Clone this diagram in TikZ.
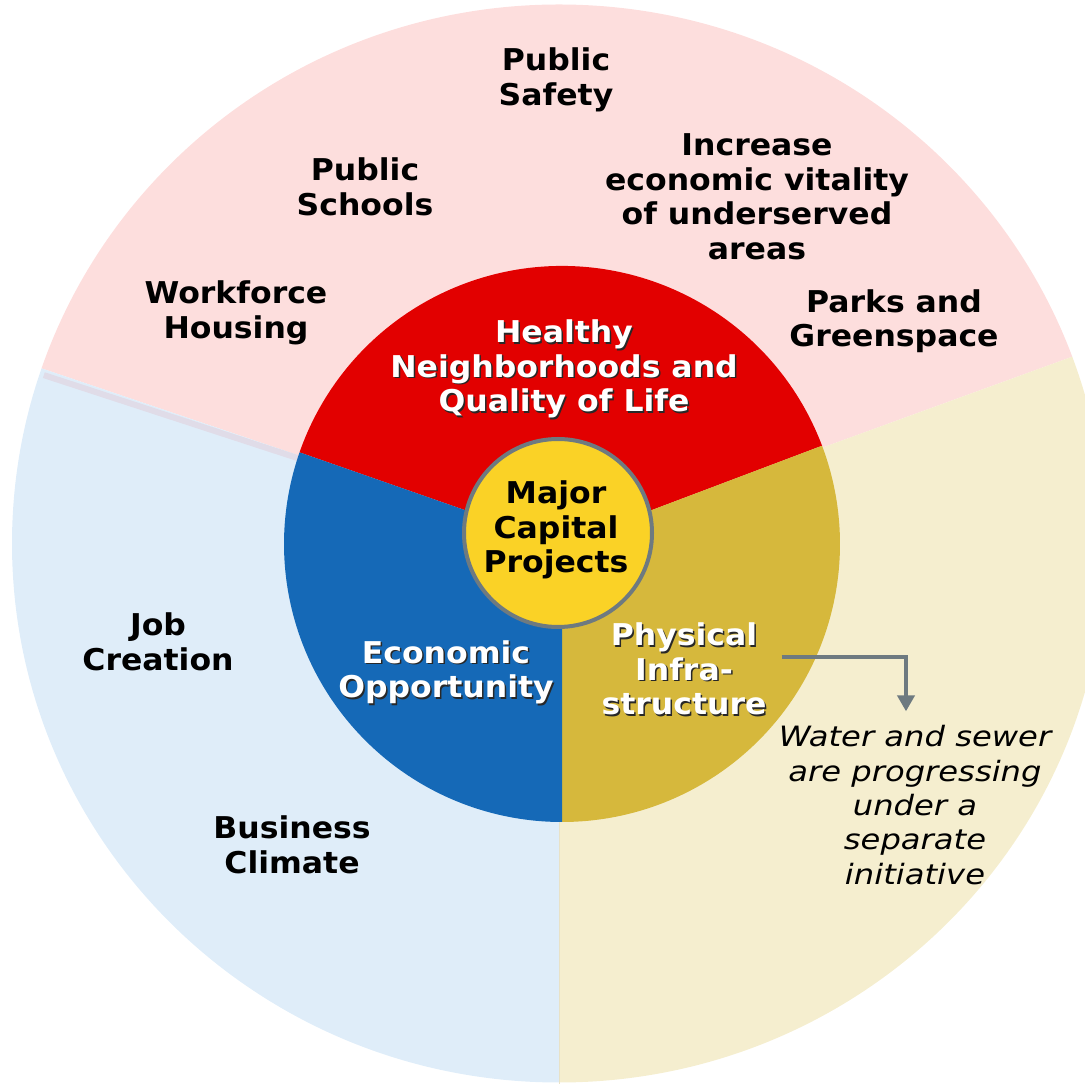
\documentclass[tikz,border=0pt]{standalone}
\usepackage{fontspec}
\setmainfont{DejaVu Sans}
\newfontfamily\labfont[FakeStretch=1.05]{DejaVu Sans}
\newfontfamily\notefont[FakeStretch=1.15]{DejaVu Sans}
\usetikzlibrary{arrows.meta,calc}
\definecolor{pinkc}{RGB}{253,222,221}
\definecolor{bluelc}{RGB}{223,237,249}
\definecolor{creamc}{RGB}{245,238,207}
\definecolor{redc}{RGB}{226,0,0}
\definecolor{bluec}{RGB}{21,105,183}
\definecolor{goldc}{RGB}{214,184,60}
\definecolor{yelc}{RGB}{250,210,38}
\definecolor{grayc}{RGB}{110,122,128}
\definecolor{lilac}{RGB}{224,220,232}
\definecolor{seamc}{RGB}{232,226,200}
\definecolor{shadc}{RGB}{40,40,40}
\newcommand\shtext[1]{\leavevmode\rlap{\kern1.5pt\raisebox{-1.5pt}{\textcolor{shadc}{#1}}}#1}
\tikzset{
  lab/.style={font=\labfont\bfseries\fontsize{30}{34.5}\selectfont, align=center, text=black, inner sep=0pt},
  wlab/.style={lab, text=white},
  notelab/.style={font=\notefont\itshape\fontsize{28}{34.3}\selectfont, align=center, text=black, inner sep=0pt},
  arr/.style={draw=grayc, line width=4pt, -{Triangle[width=17pt,length=16pt]}}
}
\begin{document}
\begin{tikzpicture}[x=1pt,y=1pt]
\useasboundingbox (0,0) rectangle (1085,1085);
\clip (0,0) rectangle (1085,1085);
\coordinate (O) at (559,541.5);
\coordinate (C) at (562,541);
% outer ring sectors (ellipse cut into wedges)
\begin{scope}
  \clip (O) -- ++(20:900pt) -- ++(0,900pt) -- ($(O)+(161.3:900pt)+(0,900pt)$) -- ($(O)+(161.3:900pt)$) -- cycle;
  \fill[pinkc] (O) ellipse[x radius=547pt, y radius=539pt];
\end{scope}
\begin{scope}
  \clip (O) -- ++(161.3:900pt) -- ($(O)+(161.3:900pt)+(0,-1200pt)$) -- ($(O)+(0,-1200pt)$) -- cycle;
  \fill[bluelc] (O) ellipse[x radius=547pt, y radius=539pt];
\end{scope}
\begin{scope}
  \clip (O) -- ($(O)+(0,-1200pt)$) -- ($(O)+(900pt,-1200pt)$) -- ($(O)+(20:900pt)$) -- cycle;
  \fill[creamc] (O) ellipse[x radius=547pt, y radius=539pt];
\end{scope}
\draw[lilac, line width=6pt] ($(O)+(161.9:270pt)$) -- ($(O)+(161.9:542pt)$);
\draw[seamc, line width=1pt] ($(O)+(270:270pt)$) -- ($(O)+(270:541pt)$);
% inner ring sectors
\fill[redc] (C) -- ++(20.7:278pt) arc[start angle=20.7,end angle=160.75,radius=278pt] -- cycle;
\fill[goldc] (C) -- ++(270:278pt) arc[start angle=270,end angle=380.7,radius=278pt] -- cycle;
\fill[bluec] (C) -- ++(160.75:278pt) arc[start angle=160.75,end angle=270,radius=278pt] -- cycle;
% centre
\node[circle, fill=yelc, draw=grayc, line width=4pt, minimum size=188pt, inner sep=0pt] (core) at (558,552) {};
\node[lab] (major) at (556,555) {Major\\Capital\\Projects};
% inner labels
\node[wlab] (healthy) at (564,715) {\shtext{Healthy}\\\shtext{Neighborhoods and}\\\shtext{Quality of Life}};
\node[wlab] (econ) at (446,412) {\shtext{Economic}\\\shtext{Opportunity}};
\node[wlab] (phys) at (684,415) {\shtext{Physical}\\\shtext{Infra-}\\\shtext{structure}};
% outer labels
\node[lab] (safety) at (556,1005) {Public\\Safety};
\node[lab] (schools) at (365,898) {Public\\Schools};
\node[lab] (vitality) at (757,888) {Increase\\economic vitality\\of underserved\\areas};
\node[lab] (housing) at (236,772) {Workforce\\Housing};
\node[lab] (parks) at (894,764) {Parks and\\Greenspace};
\node[lab] (jobs) at (158,443) {Job\\Creation};
\node[lab] (business) at (292,240) {Business\\Climate};
\node[notelab] (note) at (915,280) {Water and sewer\\are progressing\\under a\\separate\\initiative};
% connector
\draw[arr] ([xshift=15pt,yshift=13pt]phys.east) -| ([xshift=-9pt,yshift=14pt]note.north);
\end{tikzpicture}
\end{document}
